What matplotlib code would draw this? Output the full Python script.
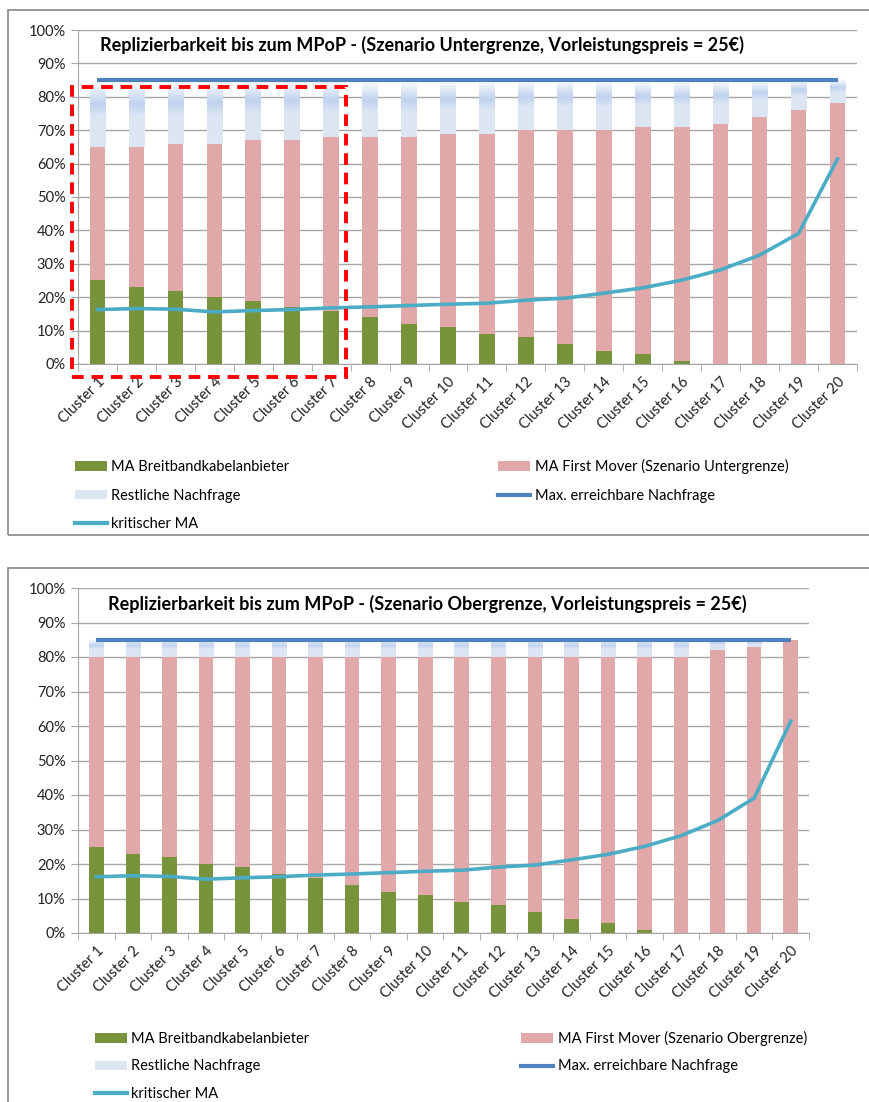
import numpy as np
import matplotlib.pyplot as plt
from matplotlib.patches import Rectangle, Patch
from matplotlib.lines import Line2D
from matplotlib.ticker import FixedLocator, PercentFormatter

plt.rcParams['font.family'] = ['Lato', 'DejaVu Sans']

clusters = [f"Cluster {i}" for i in range(1, 21)]

# Werte in Prozent
ma_kabel = [25, 23, 22, 20, 19, 17, 16, 14, 12, 11, 9, 8, 6, 4, 3, 1, 0, 0, 0, 0]
kritischer_ma = [16.3, 16.6, 16.4, 15.6, 16.0, 16.3, 16.8, 17.1, 17.5, 17.9,
                 18.2, 19.1, 19.7, 21.2, 22.8, 25.1, 28.2, 32.6, 39.1, 61.4]
max_nachfrage = 85

# Summe MA Kabel + MA First Mover (Oberkante der roten Balken)
summe_unter = [65, 65, 66, 66, 67, 67, 68, 68, 68, 69, 69, 70, 70, 70, 71, 71, 72, 74, 76, 78]
summe_ober = [80, 80, 80, 80, 80, 80, 80, 80, 80, 80, 80, 80, 80, 80, 80, 80, 80, 82, 83, 85]

GREEN = '#77933C'
PINK = '#E0A8A8'
LIGHTBLUE = '#DCE6F2'
DARKBLUE = '#4F81BD'
TEAL = '#4BACC6'
GRID = '#A6A6A6'


def gradient_bar(ax, x, bottom, top, width):
    """Restliche Nachfrage mit Verlauf weiss -> blau -> hellblau"""
    stops = [(0.0, (255, 255, 255)), (0.18, (222, 232, 246)), (0.35, (192, 210, 238)),
             (0.55, (220, 230, 244)), (1.0, (221, 230, 243))]
    n = 60
    t = np.linspace(0, 1, n)
    img = np.zeros((n, 1, 3))
    for c in range(3):
        img[:, 0, c] = np.interp(t, [s[0] for s in stops], [s[1][c] / 255 for s in stops])
    ax.imshow(img, extent=[x - width / 2, x + width / 2, bottom, top], aspect='auto',
              origin='upper', zorder=2, interpolation='bilinear')


def draw_chart(ax, summe, title, title_x, title_y, fig):
    x = np.arange(len(clusters))
    width = 0.4
    first_mover = [s - k for s, k in zip(summe, ma_kabel)]
    rest = [max_nachfrage - s for s in summe]

    ax.bar(x, ma_kabel, width, color=GREEN, zorder=2)
    ax.bar(x, first_mover, width, bottom=ma_kabel, color=PINK, zorder=2)
    for xi, s, r in zip(x, summe, rest):
        if r > 0:
            gradient_bar(ax, xi, s, s + r, width)

    ax.plot([x[0], x[-1]], [max_nachfrage, max_nachfrage], color=DARKBLUE, lw=3,
            zorder=4, solid_capstyle='butt')
    ax.plot(x, kritischer_ma, color=TEAL, lw=2.6, zorder=5)

    ax.set_xlim(-0.5, len(clusters) - 0.5)
    ax.set_ylim(0, 100)
    ax.yaxis.set_major_locator(FixedLocator(np.arange(0, 101, 10)))
    ax.yaxis.set_major_formatter(PercentFormatter(decimals=0))
    ax.grid(axis='y', color=GRID, lw=1, zorder=0)
    ax.set_axisbelow(True)

    ax.set_xticks(x)
    ax.set_xticklabels(clusters, rotation=45, ha='right', rotation_mode='anchor')
    ax.set_xticks(np.arange(-0.5, len(clusters), 1), minor=True)
    ax.tick_params(axis='x', which='major', length=0, pad=8, labelsize=10.5, labelcolor='#222222')
    ax.tick_params(axis='x', which='minor', length=5, color=GRID, direction='out')
    ax.tick_params(axis='y', length=5, color=GRID, labelsize=10.5, labelcolor='#222222', pad=4)

    for side in ['top', 'right']:
        ax.spines[side].set_visible(False)
    for side in ['left', 'bottom']:
        ax.spines[side].set_color(GRID)

    fig.text(title_x, title_y, title, ha='center', va='center', fontsize=13,
             fontweight='bold', color='black')


fig = plt.figure(figsize=(8.7, 11.02), dpi=100)
W, H = 870, 1102

# Rahmen der beiden Diagramme
fig.patches.append(Rectangle((8 / W, 1 - 535 / H), 870 / W, 525 / H, transform=fig.transFigure,
                             fill=False, edgecolor='#868686', lw=1.2))
fig.patches.append(Rectangle((8 / W, -0.01), 870 / W, 1 - 568 / H + 0.01, transform=fig.transFigure,
                             fill=False, edgecolor='#868686', lw=1.2))

ax1 = fig.add_axes([78 / W, 1 - 364 / H, 779 / W, 334 / H])
draw_chart(ax1, summe_unter,
           'Replizierbarkeit bis zum MPoP - (Szenario Untergrenze, Vorleistungspreis = 25€)',
           422 / W, 1 - 45 / H, fig)

ax2 = fig.add_axes([78 / W, 1 - 933 / H, 731 / W, 345 / H])
draw_chart(ax2, summe_ober,
           'Replizierbarkeit bis zum MPoP - (Szenario Obergrenze, Vorleistungspreis = 25€)',
           427 / W, 1 - 604 / H, fig)

# Markierung Cluster 1-7 im oberen Diagramm
ax1.add_patch(Rectangle((-0.65, -3.9), 7.02, 86.9, fill=False, edgecolor='#FF0000',
                        lw=2.8, linestyle=(0, (3, 2)), clip_on=False, zorder=6))


def add_legend(scenario, x0, y0, colspace, spacing):
    handles = [
        Patch(facecolor=GREEN, edgecolor='none'),
        Patch(facecolor=LIGHTBLUE, edgecolor='none'),
        Line2D([], [], color=TEAL, lw=3),
        Patch(facecolor=PINK, edgecolor='none'),
        Line2D([], [], color=DARKBLUE, lw=3),
    ]
    labels = ['MA Breitbandkabelanbieter', 'Restliche Nachfrage', 'kritischer MA',
              f'MA First Mover (Szenario {scenario})', 'Max. erreichbare Nachfrage']
    fig.legend(handles, labels, ncol=2, loc='upper left',
               bbox_to_anchor=(x0 / W, 1 - y0 / H), frameon=False, fontsize=10.5,
               handlelength=2.2, handleheight=0.6, handletextpad=0.3,
               labelspacing=spacing, columnspacing=colspace, borderpad=0, borderaxespad=0)


add_legend('Untergrenze', 75, 459, 14.3, 1.0)
add_legend('Obergrenze', 95, 1031, 14.5, 0.92)

fig.savefig('out.png', dpi=100)
